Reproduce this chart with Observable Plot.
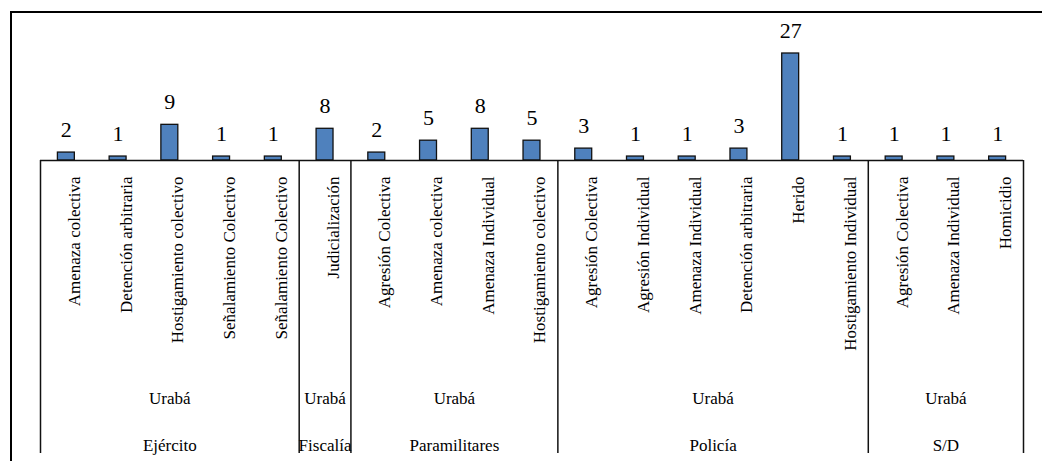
<!DOCTYPE html>
<html><head><meta charset="utf-8">
<script src="https://cdn.jsdelivr.net/npm/d3@7"></script>
<script src="https://cdn.jsdelivr.net/npm/@observablehq/plot@0.6"></script>
<style>
html,body{margin:0;padding:0;background:#fff;overflow:hidden;}
#wrap{position:relative;width:1042px;height:461px;overflow:hidden;}
#frame{position:absolute;left:10px;top:11px;width:1100px;height:600px;border-left:2px solid #000;border-top:2px solid #000;pointer-events:none;}
svg text{font-family:"Liberation Serif","Times New Roman",serif !important;}
</style></head><body><div id="wrap"><div id="frame"></div></div>
<script>
const categories = [
  "Amenaza colectiva","Detención arbitraria","Hostigamiento colectivo","Señalamiento Colectivo","Señalamiento Colectivo",
  "Judicialización",
  "Agresión Colectiva","Amenaza colectiva","Amenaza Individual","Hostigamiento colectivo",
  "Agresión Colectiva","Agresión Individual","Amenaza Individual","Detención arbitraria","Herido","Hostigamiento Individual",
  "Agresión Colectiva","Amenaza Individual","Homicidio"
];
const values = [2,1,9,1,1,8,2,5,8,5,3,1,1,3,27,1,1,1,1];
const actors = ["Ejército","Fiscalía","Paramilitares","Policía","S/D"];
const actorCounts = [5,1,4,6,3];
const regions = ["Urabá","Urabá","Urabá","Urabá","Urabá"];

const bars = categories.map((c, i) => ({i, label: c, value: values[i]}));
let s = 0;
const groups = actors.map((a, k) => {
  const g = {actor: a, region: regions[k], start: s, end: s + actorCounts[k]};
  s += actorCounts[k];
  return g;
});
const bounds = [0, ...groups.map(g => g.end)];
const serif = "Liberation Serif";

const chart = Plot.plot({
  width: 1042,
  height: 461,
  marginLeft: 40,
  marginRight: 19,
  marginTop: 53,
  marginBottom: 301,
  style: {fontFamily: serif, background: "transparent", color: "#000"},
  x: {type: "linear", domain: [0, categories.length], axis: null},
  y: {domain: [0, d3.max(values)], axis: null},
  marks: [
    Plot.rectY(bars, {x1: d => d.i, x2: d => d.i + 1, y: "value", insetLeft: 17.4, insetRight: 17.4,
      fill: "#4F81BD", stroke: "#111", strokeWidth: 1.3}),
    Plot.ruleY([0], {stroke: "#111", strokeWidth: 1.5}),
    Plot.ruleX(bounds, {x: d => d, y1: 0, y2: 0, insetBottom: -293, stroke: "#111", strokeWidth: 1.5}),
    Plot.text(bars, {x: d => d.i + 0.5, y: "value", text: d => String(d.value), lineAnchor: "bottom",
      dy: -16, fontSize: 22, fontFamily: serif, fill: "#000"}),
    Plot.text(bars, {x: d => d.i + 0.5, y: 0, text: "label", rotate: -90, textAnchor: "end",
      lineAnchor: "middle", dx: 8, dy: 16, fontSize: 17, fontFamily: serif, fill: "#000"}),
    Plot.text(groups, {x: d => (d.start + d.end) / 2, y: 0, text: "region", dy: 238, fontSize: 17, fontFamily: serif, fill: "#000"}),
    Plot.text(groups, {x: d => (d.start + d.end) / 2, y: 0, text: "actor", dy: 285, fontSize: 17, fontFamily: serif, fill: "#000"})
  ]
});
chart.style.position = "absolute";
chart.style.left = "0";
chart.style.top = "0";
document.getElementById("wrap").appendChild(chart);
</script>
</body></html>
